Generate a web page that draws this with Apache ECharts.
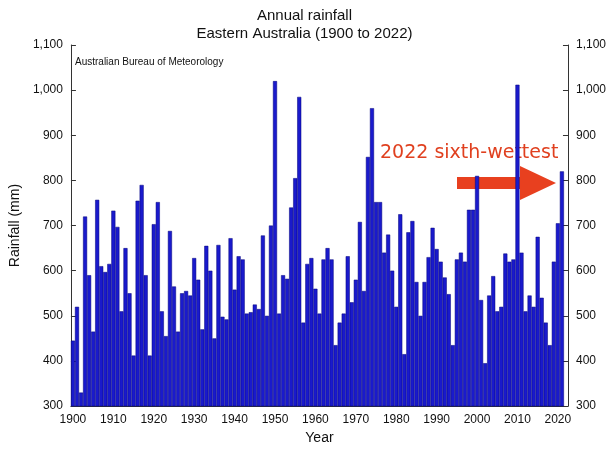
<!DOCTYPE html><html><head><meta charset="utf-8"><script src="https://cdn.jsdelivr.net/npm/echarts@6/dist/echarts.min.js"></script></head><body style="margin:0;background:#fff"><div id="c" style="width:609px;height:450px"></div><script>
const years=[];for(let y=1900;y<=2022;y++)years.push(String(y));
const rain=[445,520,330,720,590,465,757,610,597,615,733,697,510,650,550,412,755,790,590,412,703,752,510,455,688,565,465,550,555,545,
628,580,470,655,600,450,657,498,492,672,558,632,625,505,508,525,515,678,500,700,1020,505,590,582,740,805,985,485,615,628,
560,505,625,650,625,435,485,505,632,530,580,708,555,852,960,752,752,640,680,600,520,725,415,685,710,575,500,575,630,695,
648,620,585,548,435,625,640,620,735,735,810,535,395,545,588,510,520,638,620,625,1012,640,510,545,520,675,540,485,435,620,705,820];
const ax={type:'value',min:300,max:1100,interval:100,axisLine:{show:true,lineStyle:{color:'#333'}},axisTick:{show:true,inside:true},splitLine:{show:false},axisLabel:{color:'#111',fontSize:12}};
const ch=echarts.init(document.getElementById('c'));
ch.setOption({animation:false,
title:{text:'Annual rainfall\nEastern Australia (1900 to 2022)',left:'center',top:2,textStyle:{fontSize:15,fontWeight:'normal',color:'#111',lineHeight:18,fontFamily:'Liberation Sans'}},
grid:{left:66,right:41,top:45,bottom:40},
xAxis:{type:'category',data:years,axisTick:{alignWithLabel:true,interval:(i)=>i%10===0},axisLabel:{interval:(i)=>i%10===0,color:'#111',fontSize:12},name:'Year',nameLocation:'middle',nameGap:24,nameTextStyle:{fontSize:14,color:'#111'},axisLine:{lineStyle:{color:'#333'}}},
yAxis:[Object.assign({},ax,{name:'Rainfall (mm)',nameLocation:'middle',nameGap:40,nameTextStyle:{fontSize:14,color:'#111'}}),Object.assign({},ax,{position:'right'})],
series:[{type:'bar',data:rain,barCategoryGap:0,itemStyle:{color:'#1a1acc',borderColor:'#00007a',borderWidth:0.5}}],
graphic:[{type:'text',left:75,top:57,style:{text:'Australian Bureau of Meteorology',fontSize:10,fill:'#111'}},
{type:'text',left:380,top:144,style:{text:'2022 sixth-wettest',fontSize:19,fill:'#e0401f',fontFamily:'DejaVu Sans'}},
{type:'polygon',shape:{points:[[457,177],[520,177],[520,166],[556,183],[520,200],[520,189],[457,189]]},style:{fill:'#e8401f'}}]
});
</script></body></html>
